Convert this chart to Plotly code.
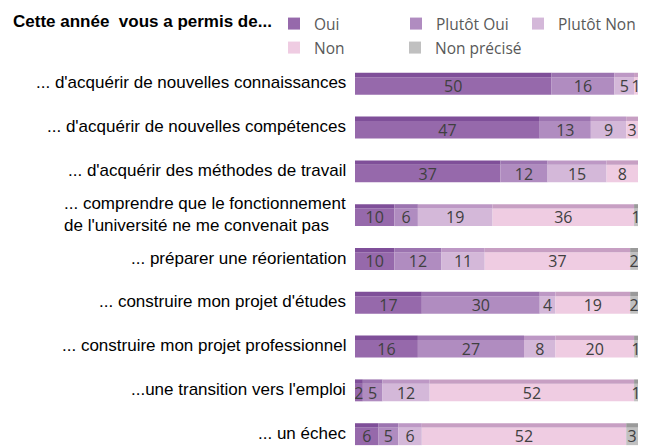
import plotly.graph_objects as go

categories = [
    "... d'acquérir de nouvelles connaissances",
    "... d'acquérir de nouvelles compétences",
    "... d'acquérir des méthodes de travail",
    "... comprendre que le fonctionnement<br>de l'université ne me convenait pas",
    "... préparer une réorientation",
    "... construire mon projet d'études",
    "... construire mon projet professionnel",
    "...une transition vers l'emploi",
    "... un échec",
]
series_names = ["Oui", "Plutôt Oui", "Plutôt Non", "Non", "Non précisé"]
oui = [50, 47, 37, 10, 10, 17, 16, 2, 6]
plutot_oui = [16, 13, 12, 6, 12, 30, 27, 5, 5]
plutot_non = [5, 9, 15, 19, 11, 4, 8, 12, 6]
non = [1, 3, 8, 36, 37, 19, 20, 52, 52]
non_precise = [0, 0, 0, 1, 2, 2, 1, 1, 3]
series_values = [oui, plutot_oui, plutot_non, non, non_precise]

front_colors = ["#9669AB", "#B08CC0", "#D4B8D9", "#EFCCE2", "#C0C0C0"]
top_colors = ["#7F4F99", "#9C74B0", "#BD98C5", "#C79FC3", "#9A9A9A"]
legend_ids = ["legend", "legend", "legend", "legend2", "legend3"]

L, R, T, B = 355, 7, 64, 0
W, H = 645, 446
PW, PH = W - L - R, H - T - B

ypos = list(range(len(categories)))
fig = go.Figure()

bases = [0] * len(categories)
for k, (name, vals) in enumerate(zip(series_names, series_values)):
    b = list(bases)
    fig.add_trace(go.Bar(
        y=ypos, x=vals, base=b, orientation="h", name=name,
        marker=dict(color=front_colors[k], line=dict(width=0)),
        width=0.4, offset=-0.2,
        text=[str(v) if v else "" for v in vals],
        textposition="inside", insidetextanchor="middle", textangle=0,
        textfont=dict(family="Open Sans", size=16, color="#404040"),
        legend=legend_ids[k],
        hoverinfo="skip",
    ))
    fig.add_trace(go.Bar(
        y=ypos, x=vals, base=b, orientation="h", showlegend=False,
        marker=dict(color=top_colors[k], line=dict(width=0)),
        width=0.1, offset=-0.3, hoverinfo="skip",
    ))
    bases = [bb + v for bb, v in zip(bases, vals)]

for i, c in enumerate(categories):
    fig.add_annotation(
        x=0, y=i, xref="x", yref="y", text=c, showarrow=False,
        xanchor="right", yanchor="middle", align="left", xshift=-7, yshift=3,
        font=dict(family="Liberation Sans, Arial", size=17, color="#000000"),
    )

fig.add_annotation(
    xref="paper", yref="paper", x=(11 - L) / PW, y=1 + (T - 21) / PH,
    xanchor="left", yanchor="middle", showarrow=False,
    text="<b>Cette année\u00a0 vous a permis de...</b>",
    font=dict(family="Liberation Sans, Arial", size=17, color="#000000"),
)

legend_common = dict(
    orientation="h", xanchor="left", yanchor="middle",
    font=dict(family="Open Sans", size=15.5, color="#595959"),
    itemwidth=30, bgcolor="rgba(0,0,0,0)", tracegroupgap=0,
)
fig.update_layout(
    width=W, height=H,
    margin=dict(l=L, r=R, t=T, b=B, autoexpand=False),
    paper_bgcolor="white", plot_bgcolor="white",
    barmode="overlay",
    uniformtext=dict(minsize=13, mode="show"),
    xaxis=dict(range=[0, 72], visible=False, fixedrange=True),
    yaxis=dict(range=[8.22, -0.5], visible=False, fixedrange=True),
    legend=dict(x=(274 - L) / PW, y=1 + (T - 24) / PH, entrywidth=77, **legend_common),
    legend2=dict(x=(274 - L) / PW, y=1 + (T - 48) / PH, **legend_common),
    legend3=dict(x=(395 - L) / PW, y=1 + (T - 48) / PH, **legend_common),
    showlegend=True,
)

fig.write_html("out.html", config={"displayModeBar": False},
               post_script="document.body.style.margin='0';")
